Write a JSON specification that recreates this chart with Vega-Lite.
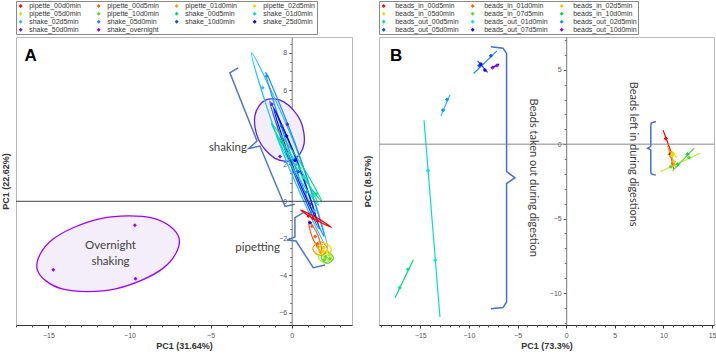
{
  "$schema": "https://vega.github.io/schema/vega-lite/v6.json",
  "padding": {"left": 0, "top": 0, "right": 0, "bottom": 0},
  "background": "white",
  "config": {"view": {"stroke": "#b8b8b8", "strokeWidth": 1}, "axis": {"grid": false}},
  "datasets": {
    "A_pts": [
      {"g": "pipette_00d0min", "x": 1.03, "y": -0.79}, {"g": "pipette_00d0min", "x": 1.3, "y": -0.92}, {"g": "pipette_00d0min", "x": 1.6, "y": -1.06},
      {"g": "pipette_00d5min", "x": 1.25, "y": -1.35}, {"g": "pipette_00d5min", "x": 1.45, "y": -1.9}, {"g": "pipette_00d5min", "x": 1.6, "y": -2.3},
      {"g": "pipette_01d0min", "x": 1.6, "y": -2.45}, {"g": "pipette_01d0min", "x": 1.8, "y": -2.75}, {"g": "pipette_01d0min", "x": 1.95, "y": -2.5},
      {"g": "pipette_02d5min", "x": 2.0, "y": -2.5}, {"g": "pipette_02d5min", "x": 2.2, "y": -2.7}, {"g": "pipette_02d5min", "x": 1.95, "y": -2.7},
      {"g": "pipette_05d0min", "x": 2.0, "y": -2.95}, {"g": "pipette_05d0min", "x": 2.2, "y": -3.1}, {"g": "pipette_05d0min", "x": 2.3, "y": -2.9},
      {"g": "pipette_10d0min", "x": 2.1, "y": -3.0}, {"g": "pipette_10d0min", "x": 2.35, "y": -3.1}, {"g": "pipette_10d0min", "x": 2.0, "y": -3.15},
      {"g": "shake_00d5min", "x": -0.6, "y": 3.2}, {"g": "shake_00d5min", "x": 0.5, "y": 1.8}, {"g": "shake_00d5min", "x": 1.5, "y": 0.4},
      {"g": "shake_01d0min", "x": -0.2, "y": 2.6}, {"g": "shake_01d0min", "x": 0.7, "y": 1.3}, {"g": "shake_01d0min", "x": 1.3, "y": 0.3},
      {"g": "shake_02d5min", "x": -1.79, "y": 6.12}, {"g": "shake_02d5min", "x": 0.3, "y": 2.0}, {"g": "shake_02d5min", "x": 1.4, "y": -0.5},
      {"g": "shake_05d0min", "x": -1.54, "y": 6.75}, {"g": "shake_05d0min", "x": 0.9, "y": 0.5}, {"g": "shake_05d0min", "x": 1.2, "y": -0.6},
      {"g": "shake_10d0min", "x": -0.62, "y": 4.06}, {"g": "shake_10d0min", "x": 1.13, "y": -0.16}, {"g": "shake_10d0min", "x": 0.4, "y": 1.6},
      {"g": "shake_25d0min", "x": -0.31, "y": 3.52}, {"g": "shake_25d0min", "x": 1.13, "y": -1.15}, {"g": "shake_25d0min", "x": 0.2, "y": 2.2},
      {"g": "shake_50d0min", "x": -1.23, "y": 5.23}, {"g": "shake_50d0min", "x": -0.27, "y": 4.15}, {"g": "shake_50d0min", "x": -0.72, "y": 2.41},
      {"g": "shake_overnight", "x": -9.67, "y": -1.29}, {"g": "shake_overnight", "x": -14.7, "y": -3.69}, {"g": "shake_overnight", "x": -9.63, "y": -4.17}
    ],
    "A_ell": [
      {"e": "E1", "g": "shake_02d5min", "i": 0, "x": -2.47, "y": 8.0}, {"e": "E1", "g": "shake_02d5min", "i": 1, "x": 0.26, "y": 2.9}, {"e": "E1", "g": "shake_02d5min", "i": 2, "x": 2.2, "y": -2.5}, {"e": "E1", "g": "shake_02d5min", "i": 3, "x": -0.53, "y": 2.6},
      {"e": "E2", "g": "shake_05d0min", "i": 0, "x": -1.6, "y": 6.95}, {"e": "E2", "g": "shake_05d0min", "i": 1, "x": 0.426, "y": 2.612}, {"e": "E2", "g": "shake_05d0min", "i": 2, "x": 2.0, "y": -1.9}, {"e": "E2", "g": "shake_05d0min", "i": 3, "x": -0.026, "y": 2.438},
      {"e": "E3", "g": "shake_10d0min", "i": 0, "x": -1.35, "y": 5.4}, {"e": "E3", "g": "shake_10d0min", "i": 1, "x": 0.372, "y": 2.026}, {"e": "E3", "g": "shake_10d0min", "i": 2, "x": 1.7, "y": -1.5}, {"e": "E3", "g": "shake_10d0min", "i": 3, "x": -0.022, "y": 1.874},
      {"e": "E4", "g": "shake_25d0min", "i": 0, "x": -1.1, "y": 5.0}, {"e": "E4", "g": "shake_25d0min", "i": 1, "x": 0.369, "y": 2.115}, {"e": "E4", "g": "shake_25d0min", "i": 2, "x": 1.5, "y": -0.9}, {"e": "E4", "g": "shake_25d0min", "i": 3, "x": 0.031, "y": 1.985},
      {"e": "E5", "g": "shake_00d5min", "i": 0, "x": -1.25, "y": 4.2}, {"e": "E5", "g": "shake_00d5min", "i": 1, "x": 0.456, "y": 2.187}, {"e": "E5", "g": "shake_00d5min", "i": 2, "x": 1.85, "y": 0.0}, {"e": "E5", "g": "shake_00d5min", "i": 3, "x": 0.144, "y": 2.013},
      {"e": "E6", "g": "shake_01d0min", "i": 0, "x": -0.95, "y": 3.6}, {"e": "E6", "g": "shake_01d0min", "i": 1, "x": 0.506, "y": 1.787}, {"e": "E6", "g": "shake_01d0min", "i": 2, "x": 1.65, "y": -0.2}, {"e": "E6", "g": "shake_01d0min", "i": 3, "x": 0.194, "y": 1.613},
      {"e": "E7", "g": "shake_50d0min", "i": 0, "x": 0.11, "y": 2.23}, {"e": "E7", "g": "shake_50d0min", "i": 1, "x": 0.76, "y": 3.08}, {"e": "E7", "g": "shake_50d0min", "i": 2, "x": 0.53, "y": 4.37}, {"e": "E7", "g": "shake_50d0min", "i": 3, "x": -0.46, "y": 5.35}, {"e": "E7", "g": "shake_50d0min", "i": 4, "x": -1.62, "y": 5.46}, {"e": "E7", "g": "shake_50d0min", "i": 5, "x": -2.27, "y": 4.61}, {"e": "E7", "g": "shake_50d0min", "i": 6, "x": -2.04, "y": 3.32}, {"e": "E7", "g": "shake_50d0min", "i": 7, "x": -1.05, "y": 2.33},
      {"e": "E8", "g": "shake_overnight", "i": 0, "x": -6.94, "y": -2.01}, {"e": "E8", "g": "shake_overnight", "i": 1, "x": -7.9, "y": -3.59}, {"e": "E8", "g": "shake_overnight", "i": 2, "x": -10.86, "y": -4.72}, {"e": "E8", "g": "shake_overnight", "i": 3, "x": -14.09, "y": -4.74}, {"e": "E8", "g": "shake_overnight", "i": 4, "x": -15.7, "y": -3.64}, {"e": "E8", "g": "shake_overnight", "i": 5, "x": -14.75, "y": -2.06}, {"e": "E8", "g": "shake_overnight", "i": 6, "x": -11.78, "y": -0.93}, {"e": "E8", "g": "shake_overnight", "i": 7, "x": -8.55, "y": -0.91},
      {"e": "E9", "g": "pipette_00d0min", "i": 0, "x": 0.55, "y": -0.47}, {"e": "E9", "g": "pipette_00d0min", "i": 1, "x": 1.536, "y": -0.879}, {"e": "E9", "g": "pipette_00d0min", "i": 2, "x": 2.45, "y": -1.4}, {"e": "E9", "g": "pipette_00d0min", "i": 3, "x": 1.464, "y": -0.991},
      {"e": "E10", "g": "pipette_00d5min", "i": 0, "x": 1.05, "y": -1.05}, {"e": "E10", "g": "pipette_00d5min", "i": 1, "x": 1.621, "y": -1.838}, {"e": "E10", "g": "pipette_00d5min", "i": 2, "x": 1.85, "y": -2.75}, {"e": "E10", "g": "pipette_00d5min", "i": 3, "x": 1.279, "y": -1.962},
      {"e": "E11", "g": "pipette_01d0min", "i": 0, "x": 2.2, "y": -2.55}, {"e": "E11", "g": "pipette_01d0min", "i": 1, "x": 1.75, "y": -2.17}, {"e": "E11", "g": "pipette_01d0min", "i": 2, "x": 1.3, "y": -2.55}, {"e": "E11", "g": "pipette_01d0min", "i": 3, "x": 1.75, "y": -2.93},
      {"e": "E12", "g": "pipette_02d5min", "i": 0, "x": 2.45, "y": -2.6}, {"e": "E12", "g": "pipette_02d5min", "i": 1, "x": 2.05, "y": -2.25}, {"e": "E12", "g": "pipette_02d5min", "i": 2, "x": 1.65, "y": -2.6}, {"e": "E12", "g": "pipette_02d5min", "i": 3, "x": 2.05, "y": -2.95},
      {"e": "E13", "g": "pipette_05d0min", "i": 0, "x": 2.45, "y": -3.0}, {"e": "E13", "g": "pipette_05d0min", "i": 1, "x": 2.05, "y": -2.67}, {"e": "E13", "g": "pipette_05d0min", "i": 2, "x": 1.65, "y": -3.0}, {"e": "E13", "g": "pipette_05d0min", "i": 3, "x": 2.05, "y": -3.33},
      {"e": "E14", "g": "pipette_10d0min", "i": 0, "x": 2.58, "y": -3.05}, {"e": "E14", "g": "pipette_10d0min", "i": 1, "x": 2.2, "y": -2.75}, {"e": "E14", "g": "pipette_10d0min", "i": 2, "x": 1.82, "y": -3.05}, {"e": "E14", "g": "pipette_10d0min", "i": 3, "x": 2.2, "y": -3.35}
    ],
    "A_br": [
      {"b": "shaking", "i": 0, "x": -3.3, "y": 7.2}, {"b": "shaking", "i": 1, "x": -3.81, "y": 6.93}, {"b": "shaking", "i": 2, "x": -2.14, "y": 3.25}, {"b": "shaking", "i": 3, "x": -2.64, "y": 2.85}, {"b": "shaking", "i": 4, "x": -1.96, "y": 2.98}, {"b": "shaking", "i": 5, "x": -0.41, "y": -0.28}, {"b": "shaking", "i": 6, "x": 0.2, "y": -0.16},
      {"b": "pipetting", "i": 0, "x": 0.72, "y": -0.61}, {"b": "pipetting", "i": 1, "x": 0.2, "y": -0.88}, {"b": "pipetting", "i": 2, "x": 0.2, "y": -1.92}, {"b": "pipetting", "i": 3, "x": -0.29, "y": -2.09}, {"b": "pipetting", "i": 4, "x": 0.27, "y": -2.14}, {"b": "pipetting", "i": 5, "x": 1.33, "y": -3.58}, {"b": "pipetting", "i": 6, "x": 2.06, "y": -3.43}
    ],
    "A_title": [{"t": "A", "x": -16.1, "y": 7.83}],
    "A_txt": [
      {"t": "shaking", "x": -3.93, "y": 2.89},
      {"t": "pipetting", "x": -2.1, "y": -2.5},
      {"t": "Overnight", "x": -11.17, "y": -2.41},
      {"t": "shaking", "x": -11.17, "y": -3.26}
    ],
    "B_pts": [
      {"g": "beads_in_00d5min", "x": 10.25, "y": 0.38}, {"g": "beads_in_00d5min", "x": 10.69, "y": -0.67},
      {"g": "beads_in_01d0min", "x": 10.8, "y": -0.8}, {"g": "beads_in_01d0min", "x": 10.95, "y": -1.3},
      {"g": "beads_in_02d5min", "x": 10.9, "y": -0.6}, {"g": "beads_in_02d5min", "x": 11.1, "y": -1.2},
      {"g": "beads_in_05d0min", "x": 11.04, "y": -0.67}, {"g": "beads_in_05d0min", "x": 10.85, "y": -0.75},
      {"g": "beads_in_07d5min", "x": 10.76, "y": -1.51}, {"g": "beads_in_07d5min", "x": 12.64, "y": -0.9},
      {"g": "beads_in_10d0min", "x": 11.45, "y": -1.35}, {"g": "beads_in_10d0min", "x": 12.48, "y": -0.67},
      {"g": "beads_out_00d5min", "x": -17.12, "y": -9.64}, {"g": "beads_out_00d5min", "x": -16.27, "y": -8.41},
      {"g": "beads_out_01d0min", "x": -14.21, "y": -1.78}, {"g": "beads_out_01d0min", "x": -13.46, "y": -7.8},
      {"g": "beads_out_02d5min", "x": -12.67, "y": 2.29}, {"g": "beads_out_02d5min", "x": -12.26, "y": 3.0},
      {"g": "beads_out_05d0min", "x": -7.74, "y": 5.94}, {"g": "beads_out_05d0min", "x": -8.94, "y": 5.27},
      {"g": "beads_out_07d5min", "x": -8.77, "y": 5.38}, {"g": "beads_out_07d5min", "x": -8.36, "y": 4.98},
      {"g": "beads_out_10d0min", "x": -7.57, "y": 5.15}, {"g": "beads_out_10d0min", "x": -7.12, "y": 5.29}
    ],
    "B_ell": [
      {"g": "beads_out_05d0min", "i": 0, "x": -9.52, "y": 4.75}, {"g": "beads_out_05d0min", "i": 1, "x": -7.12, "y": 6.27},
      {"g": "beads_out_07d5min", "i": 0, "x": -9.11, "y": 5.6}, {"g": "beads_out_07d5min", "i": 1, "x": -8.08, "y": 4.82},
      {"g": "beads_out_10d0min", "i": 0, "x": -7.74, "y": 5.11}, {"g": "beads_out_10d0min", "i": 1, "x": -6.89, "y": 5.38},
      {"g": "beads_out_02d5min", "i": 0, "x": -12.88, "y": 1.9}, {"g": "beads_out_02d5min", "i": 1, "x": -11.95, "y": 3.32},
      {"g": "beads_out_01d0min", "i": 0, "x": -14.62, "y": 1.61}, {"g": "beads_out_01d0min", "i": 1, "x": -12.98, "y": -11.61},
      {"g": "beads_out_00d5min", "i": 0, "x": -17.6, "y": -10.32}, {"g": "beads_out_00d5min", "i": 1, "x": -15.72, "y": -7.76},
      {"g": "beads_in_00d5min", "i": 0, "x": 9.97, "y": 0.94}, {"g": "beads_in_00d5min", "i": 1, "x": 10.94, "y": -0.79},
      {"g": "beads_in_01d0min", "i": 0, "x": 10.6, "y": -0.3}, {"g": "beads_in_01d0min", "i": 1, "x": 11.05, "y": -1.7},
      {"g": "beads_in_02d5min", "i": 0, "x": 10.42, "y": -0.11}, {"g": "beads_in_02d5min", "i": 1, "x": 11.27, "y": -1.57},
      {"g": "beads_in_05d0min", "i": 0, "x": 10.7, "y": -0.5}, {"g": "beads_in_05d0min", "i": 1, "x": 11.4, "y": -0.9},
      {"g": "beads_in_07d5min", "i": 0, "x": 9.73, "y": -1.84}, {"g": "beads_in_07d5min", "i": 1, "x": 13.77, "y": -0.61},
      {"g": "beads_in_10d0min", "i": 0, "x": 10.94, "y": -1.8}, {"g": "beads_in_10d0min", "i": 1, "x": 13.16, "y": -0.27}
    ],
    "B_br": [
      {"b": "out", "i": 0, "x": -7.74, "y": 6.54}, {"b": "out", "i": 1, "x": -6.5, "y": 6.45}, {"b": "out", "i": 2, "x": -6.13, "y": 6.1}, {"b": "out", "i": 3, "x": -6.13, "y": -1.85}, {"b": "out", "i": 4, "x": -5.27, "y": -2.25}, {"b": "out", "i": 5, "x": -6.13, "y": -2.65}, {"b": "out", "i": 6, "x": -6.13, "y": -10.6}, {"b": "out", "i": 7, "x": -6.5, "y": -10.98}, {"b": "out", "i": 8, "x": -7.74, "y": -11.06},
      {"b": "in", "i": 0, "x": 9.22, "y": 1.52}, {"b": "in", "i": 1, "x": 8.75, "y": 1.42}, {"b": "in", "i": 2, "x": 8.7, "y": 1.2}, {"b": "in", "i": 3, "x": 8.7, "y": -0.15}, {"b": "in", "i": 4, "x": 8.37, "y": -0.27}, {"b": "in", "i": 5, "x": 8.7, "y": -0.39}, {"b": "in", "i": 6, "x": 8.7, "y": -1.85}, {"b": "in", "i": 7, "x": 8.75, "y": -2.0}, {"b": "in", "i": 8, "x": 9.22, "y": -2.08}
    ],
    "B_title": [{"t": "B", "x": -17.5, "y": 5.94}],
    "B_rot": [
      {"t": "Beads taken out during digestion", "x": -3.45, "y": -2.25},
      {"t": "Beads left in during digestions", "x": 6.82, "y": -0.67}
    ]
  },
  "spacing": 9,
  "hconcat": [
    {
      "width": 336,
      "height": 288,
      "layer": [
        {
          "data": {"name": "A_ell"},
          "transform": [{"filter": {"field": "e", "oneOf": ["E7", "E8"]}}],
          "mark": {"type": "line", "interpolate": "cardinal-closed", "fill": "#f3eefa", "strokeWidth": 1.3},
          "encoding": {
            "x": {"field": "x", "type": "quantitative", "scale": {"domain": [-17, 3.72], "nice": false, "zero": false},
              "axis": {"orient": "bottom", "values": [-15, -10, -5, 0], "title": "PC1 (31.64%)", "titleFont": "Liberation Sans", "titleFontSize": 9, "titleFontWeight": "bold", "titleColor": "#333", "titlePadding": 3, "labelFont": "Liberation Sans", "labelFontSize": 7, "labelColor": "#555", "labelPadding": 3, "tickSize": 3, "tickColor": "#333", "domainColor": "#333", "grid": false}},
            "y": {"field": "y", "type": "quantitative", "scale": {"domain": [-6.67, 8.86], "nice": false, "zero": false},
              "axis": {"orient": "left", "title": "PC1 (22.62%)", "titleFont": "Liberation Sans", "titleFontSize": 9, "titleFontWeight": "bold", "titleColor": "#333", "titlePadding": 6, "labels": false, "ticks": false, "domain": false, "grid": false}},
            "stroke": {"field": "g", "type": "nominal", "legend": null,
              "scale": {"domain": ["pipette_00d0min", "pipette_00d5min", "pipette_01d0min", "pipette_02d5min", "pipette_05d0min", "pipette_10d0min", "shake_00d5min", "shake_01d0min", "shake_02d5min", "shake_05d0min", "shake_10d0min", "shake_25d0min", "shake_50d0min", "shake_overnight"],
                "range": ["#ff0000", "#ff5a1e", "#ff9a00", "#ffd400", "#b4f028", "#5ad828", "#00d878", "#00e0c8", "#1ec0ff", "#1e8cff", "#1450dc", "#0000ff", "#6420e0", "#a000ff"]}},
            "detail": {"field": "e"},
            "order": {"field": "i", "type": "quantitative"}
          }
        },
        {
          "data": {"name": "A_ell"},
          "transform": [{"filter": {"not": {"field": "e", "oneOf": ["E7", "E8"]}}}],
          "mark": {"type": "line", "interpolate": "cardinal-closed", "strokeWidth": 1.2},
          "encoding": {
            "x": {"field": "x", "type": "quantitative", "scale": {"domain": [-17, 3.72], "nice": false, "zero": false},
              "axis": {"orient": "bottom", "values": [-17, -16, -14, -13, -12, -11, -9, -8, -7, -6, -4, -3, -2, -1, 1, 2, 3], "labels": false, "tickSize": 2, "tickColor": "#555", "domain": false, "title": null, "grid": false}},
            "y": {"field": "y", "type": "quantitative", "scale": {"domain": [-6.67, 8.86], "nice": false, "zero": false},
              "axis": {"orient": "left", "offset": -275.7, "values": [-6, -4, -2, 0, 2, 4, 6, 8], "title": null, "labelFont": "Liberation Sans", "labelFontSize": 7, "labelColor": "#555", "labelPadding": 2, "tickSize": 3, "tickColor": "#555", "domainColor": "#777", "grid": false}},
            "stroke": {"field": "g", "type": "nominal", "legend": null,
              "scale": {"domain": ["pipette_00d0min", "pipette_00d5min", "pipette_01d0min", "pipette_02d5min", "pipette_05d0min", "pipette_10d0min", "shake_00d5min", "shake_01d0min", "shake_02d5min", "shake_05d0min", "shake_10d0min", "shake_25d0min", "shake_50d0min", "shake_overnight"],
                "range": ["#ff0000", "#ff5a1e", "#ff9a00", "#ffd400", "#b4f028", "#5ad828", "#00d878", "#00e0c8", "#1ec0ff", "#1e8cff", "#1450dc", "#0000ff", "#6420e0", "#a000ff"]}},
            "detail": {"field": "e"},
            "order": {"field": "i", "type": "quantitative"}
          }
        },
        {
          "data": {"name": "A_br"},
          "mark": {"type": "line", "color": "#4a78c8", "strokeWidth": 1.5},
          "encoding": {
            "x": {"field": "x", "type": "quantitative", "scale": {"domain": [-17, 3.72], "nice": false, "zero": false}, "axis": null},
            "y": {"field": "y", "type": "quantitative", "scale": {"domain": [-6.67, 8.86], "nice": false, "zero": false},
              "axis": {"orient": "left", "offset": -275.7, "values": [-6.5, -5.5, -5, -4.5, -3.5, -3, -2.5, -1.5, -1, -0.5, 0.5, 1, 1.5, 2.5, 3, 3.5, 4.5, 5, 5.5, 6.5, 7, 7.5, 8.5], "labels": false, "tickSize": 2, "tickColor": "#777", "domain": false, "title": null, "grid": false}},
            "detail": {"field": "b"},
            "order": {"field": "i", "type": "quantitative"}
          }
        },
        {
          "data": {"values": [{}]},
          "mark": {"type": "rule", "color": "#444", "strokeWidth": 1},
          "encoding": {"y": {"datum": 0, "type": "quantitative", "scale": {"domain": [-6.67, 8.86], "nice": false, "zero": false}, "axis": null}}
        },
        {
          "data": {"name": "A_pts"},
          "mark": {"type": "point", "shape": "diamond", "filled": true, "size": 16, "opacity": 1},
          "encoding": {
            "x": {"field": "x", "type": "quantitative", "scale": {"domain": [-17, 3.72], "nice": false, "zero": false}, "axis": null},
            "y": {"field": "y", "type": "quantitative", "scale": {"domain": [-6.67, 8.86], "nice": false, "zero": false}, "axis": null},
            "color": {"field": "g", "type": "nominal",
              "scale": {"domain": ["pipette_00d0min", "pipette_00d5min", "pipette_01d0min", "pipette_02d5min", "pipette_05d0min", "pipette_10d0min", "shake_00d5min", "shake_01d0min", "shake_02d5min", "shake_05d0min", "shake_10d0min", "shake_25d0min", "shake_50d0min", "shake_overnight"],
                "range": ["#ff0000", "#ff5a1e", "#ff9a00", "#ffd400", "#b4f028", "#5ad828", "#00d878", "#00e0c8", "#1ec0ff", "#1e8cff", "#1450dc", "#0000ff", "#6420e0", "#a000ff"]},
              "legend": {"title": null, "orient": "top", "columns": 4, "direction": "horizontal", "symbolType": "diamond", "symbolSize": 16, "symbolStrokeWidth": 0, "labelFont": "Liberation Sans", "labelFontSize": 7, "labelColor": "#333", "labelOffset": 5, "columnPadding": 14, "rowPadding": 0, "padding": 1.2, "strokeColor": "#888", "offset": 3, "labelLimit": 120}}
          }
        },
        {
          "data": {"name": "A_title"},
          "mark": {"type": "text", "font": "Liberation Sans", "fontWeight": "bold", "fontSize": 17, "color": "#000"},
          "encoding": {
            "x": {"field": "x", "type": "quantitative", "scale": {"domain": [-17, 3.72], "nice": false, "zero": false}, "axis": null},
            "y": {"field": "y", "type": "quantitative", "scale": {"domain": [-6.67, 8.86], "nice": false, "zero": false}, "axis": null},
            "text": {"field": "t"}
          }
        },
        {
          "data": {"name": "A_txt"},
          "mark": {"type": "text", "font": "Lato", "fontSize": 11.5, "color": "#404040"},
          "encoding": {
            "x": {"field": "x", "type": "quantitative", "scale": {"domain": [-17, 3.72], "nice": false, "zero": false}, "axis": null},
            "y": {"field": "y", "type": "quantitative", "scale": {"domain": [-6.67, 8.86], "nice": false, "zero": false}, "axis": null},
            "text": {"field": "t"}
          }
        }
      ],
      "resolve": {"axis": {"x": "independent", "y": "independent"}}
    },
    {
      "width": 335,
      "height": 288,
      "layer": [
        {
          "data": {"name": "B_ell"},
          "mark": {"type": "line", "interpolate": "cardinal-closed", "strokeWidth": 1.2},
          "encoding": {
            "x": {"field": "x", "type": "quantitative", "scale": {"domain": [-19.25, 15.2], "nice": false, "zero": false},
              "axis": {"orient": "bottom", "values": [-15, -10, -5, 0, 5, 10, 15], "title": "PC1 (73.3%)", "titleFont": "Liberation Sans", "titleFontSize": 9, "titleFontWeight": "bold", "titleColor": "#333", "titlePadding": 3, "labelFont": "Liberation Sans", "labelFontSize": 7, "labelColor": "#555", "labelPadding": 3, "tickSize": 3, "tickColor": "#333", "domainColor": "#333", "grid": false}},
            "y": {"field": "y", "type": "quantitative", "scale": {"domain": [-12.15, 7.2], "nice": false, "zero": false},
              "axis": {"orient": "left", "title": "PC1 (8.57%)", "titleFont": "Liberation Sans", "titleFontSize": 9, "titleFontWeight": "bold", "titleColor": "#333", "titlePadding": 7, "labels": false, "ticks": false, "domain": false, "grid": false}},
            "stroke": {"field": "g", "type": "nominal", "legend": null,
              "scale": {"domain": ["beads_in_00d5min", "beads_in_01d0min", "beads_in_02d5min", "beads_in_05d0min", "beads_in_07d5min", "beads_in_10d0min", "beads_out_00d5min", "beads_out_01d0min", "beads_out_02d5min", "beads_out_05d0min", "beads_out_07d5min", "beads_out_10d0min"],
                "range": ["#ff0000", "#ff6400", "#ffc000", "#c8f000", "#50dc28", "#00d850", "#00e68c", "#00e6e6", "#0096ff", "#0050ff", "#2800ff", "#9600ff"]}},
            "detail": {"field": "g"},
            "order": {"field": "i", "type": "quantitative"}
          }
        },
        {
          "data": {"name": "B_br"},
          "mark": {"type": "line", "color": "#3f6fd6", "strokeWidth": 1.5},
          "encoding": {
            "x": {"field": "x", "type": "quantitative", "scale": {"domain": [-19.25, 15.2], "nice": false, "zero": false},
              "axis": {"orient": "bottom", "values": [-19, -18, -17, -16, -14, -13, -12, -11, -9, -8, -7, -6, -4, -3, -2, -1, 1, 2, 3, 4, 6, 7, 8, 9, 11, 12, 13, 14], "labels": false, "tickSize": 2, "tickColor": "#555", "domain": false, "title": null, "grid": false}},
            "y": {"field": "y", "type": "quantitative", "scale": {"domain": [-12.15, 7.2], "nice": false, "zero": false},
              "axis": {"orient": "left", "offset": -187.2, "values": [-10, -5, 0, 5], "title": null, "labelFont": "Liberation Sans", "labelFontSize": 7, "labelColor": "#555", "labelPadding": 2, "tickSize": 3, "tickColor": "#555", "domainColor": "#777", "grid": false}},
            "detail": {"field": "b"},
            "order": {"field": "i", "type": "quantitative"}
          }
        },
        {
          "data": {"values": [{}]},
          "mark": {"type": "rule", "color": "#888", "strokeWidth": 1},
          "encoding": {"y": {"datum": 0, "type": "quantitative", "scale": {"domain": [-12.15, 7.2], "nice": false, "zero": false},
            "axis": {"orient": "left", "offset": -187.2, "values": [-12, -11, -9, -8, -7, -6, -4, -3, -2, -1, 1, 2, 3, 4, 6, 7], "labels": false, "tickSize": 2, "tickColor": "#777", "domain": false, "title": null, "grid": false}}}
        },
        {
          "data": {"name": "B_pts"},
          "mark": {"type": "point", "shape": "diamond", "filled": true, "size": 18, "opacity": 1},
          "encoding": {
            "x": {"field": "x", "type": "quantitative", "scale": {"domain": [-19.25, 15.2], "nice": false, "zero": false}, "axis": null},
            "y": {"field": "y", "type": "quantitative", "scale": {"domain": [-12.15, 7.2], "nice": false, "zero": false}, "axis": null},
            "color": {"field": "g", "type": "nominal",
              "scale": {"domain": ["beads_in_00d5min", "beads_in_01d0min", "beads_in_02d5min", "beads_in_05d0min", "beads_in_07d5min", "beads_in_10d0min", "beads_out_00d5min", "beads_out_01d0min", "beads_out_02d5min", "beads_out_05d0min", "beads_out_07d5min", "beads_out_10d0min"],
                "range": ["#ff0000", "#ff6400", "#ffc000", "#c8f000", "#50dc28", "#00d850", "#00e68c", "#00e6e6", "#0096ff", "#0050ff", "#2800ff", "#9600ff"]},
              "legend": {"title": null, "orient": "top", "columns": 3, "direction": "horizontal", "symbolType": "diamond", "symbolSize": 16, "symbolStrokeWidth": 0, "labelFont": "Liberation Sans", "labelFontSize": 7, "labelColor": "#333", "labelOffset": 8, "columnPadding": 10, "rowPadding": 0, "padding": 1.2, "strokeColor": "#888", "offset": 3, "labelLimit": 120}}
          }
        },
        {
          "data": {"name": "B_title"},
          "mark": {"type": "text", "font": "Liberation Sans", "fontWeight": "bold", "fontSize": 17, "color": "#000"},
          "encoding": {
            "x": {"field": "x", "type": "quantitative", "scale": {"domain": [-19.25, 15.2], "nice": false, "zero": false}, "axis": null},
            "y": {"field": "y", "type": "quantitative", "scale": {"domain": [-12.15, 7.2], "nice": false, "zero": false}, "axis": null},
            "text": {"field": "t"}
          }
        },
        {
          "data": {"name": "B_rot"},
          "mark": {"type": "text", "font": "Lato", "fontSize": 11, "color": "#404040", "angle": 90},
          "encoding": {
            "x": {"field": "x", "type": "quantitative", "scale": {"domain": [-19.25, 15.2], "nice": false, "zero": false}, "axis": null},
            "y": {"field": "y", "type": "quantitative", "scale": {"domain": [-12.15, 7.2], "nice": false, "zero": false}, "axis": null},
            "text": {"field": "t"}
          }
        }
      ],
      "resolve": {"axis": {"x": "independent", "y": "independent"}}
    }
  ],
  "resolve": {"scale": {"color": "independent"}, "legend": {"color": "independent"}}
}
